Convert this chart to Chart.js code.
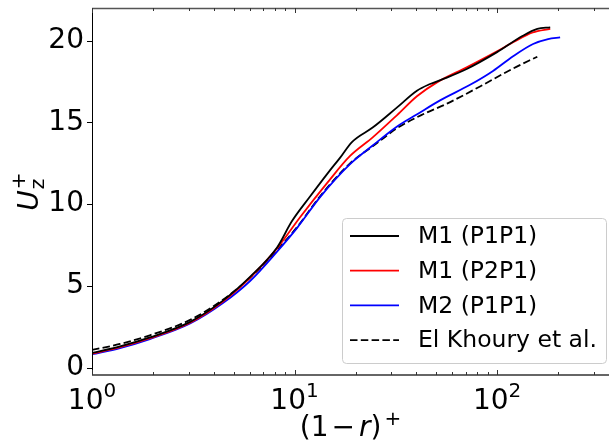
<!DOCTYPE html>
<html lang="en">
<head>
<meta charset="utf-8"/>
<script src="https://cdn.jsdelivr.net/npm/chart.js@4.4.0/dist/chart.umd.min.js"></script>
<style>
  html, body { margin: 0; padding: 0; background: #fff; }
  #box { width: 609px; height: 445px; }
</style>
</head>
<body>
<div id="box"><canvas id="plot" width="609" height="445"></canvas></div>
<script>
// values
const m1p1X = [1, 1.375, 1.93, 3.05, 4.43, 6.03, 8.2, 9.7, 11.9, 14.6, 16.8, 19.2, 24.4, 32.1, 40.2, 46.7, 54.3, 70.8, 100, 134, 158, 183];
const m1p1Y = [0.9, 1.3, 1.85, 2.8, 4.1, 5.55, 7.35, 8.95, 10.45, 11.9, 12.85, 13.8, 14.7, 15.92, 16.94, 17.35, 17.66, 18.27, 19.3, 20.3, 20.72, 20.82];

const m1p2X = [1, 1.375, 1.93, 3.05, 4.43, 6.03, 8.2, 10.65, 14.5, 18.8, 24.4, 32.1, 40.2, 50.5, 70.8, 100, 120, 150, 183];
const m1p2Y = [0.85, 1.25, 1.8, 2.75, 4.05, 5.5, 7.3, 9.2, 11.3, 12.95, 14.1, 15.45, 16.6, 17.45, 18.37, 19.35, 19.9, 20.5, 20.72];

const m2p1X = [1, 1.375, 1.93, 3.05, 4.43, 6.03, 8.2, 10.3, 13.4, 18.8, 24.4, 32.1, 40.3, 52.3, 73.6, 95.5, 120, 150.6, 178.6, 204.8];
const m2p1Y = [0.82, 1.2, 1.75, 2.7, 3.95, 5.3, 7.1, 8.55, 10.45, 12.45, 13.6, 14.75, 15.5, 16.35, 17.3, 18.15, 19.05, 19.8, 20.1, 20.2];

const khouryX = [1, 1.375, 1.93, 3.05, 4.43, 6.03, 8.2, 10.3, 13.4, 18.8, 24.4, 32.1, 43.1, 56.6, 82.4, 120, 158];
const khouryY = [1.08, 1.45, 1.98, 2.92, 4.15, 5.5, 7.2, 8.6, 10.5, 12.5, 13.55, 14.65, 15.5, 16.15, 17.2, 18.3, 19.02];

const seriesNames = ['M1 (P1P1)', 'M1 (P2P1)', 'M2 (P1P1)', 'El Khoury et al.'];
const xTickValues = [1,2,3,4,5,6,7,8,9,10,20,30,40,50,60,70,80,90,100,200,300];
const xMajorValues = [1, 10, 100];
const yTickValues = [0, 5, 10, 15, 20];

const FONT = '"DejaVu Sans", sans-serif';

function pairs(xs, ys) {
    return xs.map((x, i) => ({ x: x, y: ys[i] }));
}

function line(label, xs, ys, colour, dash) {
    return {
        label: label,
        data: pairs(xs, ys),
        borderColor: colour,
        backgroundColor: colour,
        borderWidth: 1.8,
        borderDash: dash || [],
        showLine: true,
        pointRadius: 0,
        cubicInterpolationMode: 'monotone',
        fill: false,
    };
}

// spines, inward x ticks, outward y ticks, x tick labels as 10^n
const framePlugin = {
    id: 'frame',
    afterDraw(chart) {
        const ctx = chart.ctx;
        const a = chart.chartArea;
        const xs = chart.scales.x;
        const ys = chart.scales.y;
        ctx.save();
        ctx.lineCap = 'butt';

        ctx.strokeStyle = '#000';
        ctx.lineWidth = 1;
        ctx.beginPath();
        ctx.moveTo(a.left + 0.5, a.top);
        ctx.lineTo(a.left + 0.5, a.bottom);
        ctx.stroke();

        ctx.strokeStyle = '#555';
        ctx.lineWidth = 1.5;
        ctx.beginPath();
        ctx.moveTo(a.left, a.top + 0.5);
        ctx.lineTo(a.right, a.top + 0.5);
        ctx.stroke();

        ctx.strokeStyle = '#666';
        ctx.lineWidth = 2.2;
        ctx.beginPath();
        ctx.moveTo(a.left, a.bottom);
        ctx.lineTo(a.right, a.bottom);
        ctx.stroke();

        ctx.lineWidth = 1;
        ctx.strokeStyle = '#333';
        xTickValues.forEach((v) => {
            const px = Math.round(xs.getPixelForValue(v)) + 0.5;
            const major = xMajorValues.includes(v);
            const len = major ? 5 : 3;
            ctx.beginPath();
            ctx.moveTo(px, a.bottom);
            ctx.lineTo(px, a.bottom - len);
            ctx.moveTo(px, a.top);
            ctx.lineTo(px, a.top + len);
            ctx.stroke();
        });

        ctx.strokeStyle = '#000';
        yTickValues.forEach((v) => {
            const py = Math.round(ys.getPixelForValue(v)) + 0.5;
            ctx.beginPath();
            ctx.moveTo(a.left - 5, py);
            ctx.lineTo(a.left, py);
            ctx.stroke();
        });

        ctx.fillStyle = '#000';
        ctx.textAlign = 'left';
        ctx.textBaseline = 'alphabetic';
        xMajorValues.forEach((v) => {
            const px = xs.getPixelForValue(v);
            const e = String(Math.round(Math.log10(v)));
            ctx.font = '28px ' + FONT;
            const w1 = ctx.measureText('10').width;
            ctx.font = '20px ' + FONT;
            const w2 = ctx.measureText(e).width;
            const x0 = px - (w1 + w2) / 2;
            ctx.font = '28px ' + FONT;
            ctx.fillText('10', x0, 409);
            ctx.font = '20px ' + FONT;
            ctx.fillText(e, x0 + w1, 397);
        });
        ctx.restore();
    }
};

// axis titles with math style pieces
const titlePlugin = {
    id: 'titles',
    afterDraw(chart) {
        const ctx = chart.ctx;
        const a = chart.chartArea;
        ctx.save();
        ctx.fillStyle = '#000';
        ctx.textBaseline = 'alphabetic';
        ctx.textAlign = 'left';

        // x title: (1 - r)+
        const big = '28px ' + FONT;
        const bigIt = 'italic 28px ' + FONT;
        const small = '20px ' + FONT;
        const parts = [
            { t: '(1', f: big, dy: 0, gap: 3 },
            { t: '\u2212', f: big, dy: 0, gap: 4 },
            { t: 'r', f: bigIt, dy: 0, gap: 0 },
            { t: ')', f: big, dy: 0, gap: 3 },
            { t: '+', f: small, dy: -11, gap: 0 },
        ];
        let w = 0;
        parts.forEach((p) => { ctx.font = p.f; p.w = ctx.measureText(p.t).width + p.gap; w += p.w; });
        let x = (a.left + a.right) / 2 - w / 2;
        const base = 436;
        parts.forEach((p) => {
            ctx.font = p.f;
            ctx.fillText(p.t, x, base + p.dy);
            x += p.w;
        });

        // y title: U_z^+
        ctx.translate(28, (a.top + a.bottom) / 2);
        ctx.rotate(-Math.PI / 2);
        ctx.font = bigIt;
        const uw = ctx.measureText('U').width;
        ctx.font = small;
        const zw = ctx.measureText('z').width;
        const pw = ctx.measureText('+').width;
        const tw = uw + 1 + Math.max(zw, pw);
        const x0 = -tw / 2;
        ctx.font = bigIt;
        ctx.fillText('U', x0, 10);
        ctx.font = small;
        ctx.fillText('z', x0 + uw + 1, 16);
        ctx.fillText('+', x0 + uw + 1, -3);
        ctx.restore();
    }
};

// legend box inside the plot, lower right
const legendPlugin = {
    id: 'innerLegend',
    afterDraw(chart) {
        const ctx = chart.ctx;
        const bx = 342, by = 218, bw = 264, bh = 145, r = 4;
        ctx.save();
        ctx.fillStyle = 'rgba(255,255,255,0.85)';
        ctx.strokeStyle = '#cccccc';
        ctx.lineWidth = 1;
        ctx.beginPath();
        ctx.roundRect(bx + 0.5, by + 0.5, bw, bh, r);
        ctx.fill();
        ctx.stroke();
        ctx.font = '23.5px ' + FONT;
        ctx.textBaseline = 'middle';
        ctx.textAlign = 'left';
        chart.data.datasets.forEach((ds, i) => {
            const yy = 236 + i * 34.7;
            ctx.strokeStyle = ds.borderColor;
            ctx.lineWidth = 1.8;
            ctx.setLineDash(ds.borderDash || []);
            ctx.beginPath();
            ctx.moveTo(350, yy);
            ctx.lineTo(399, yy);
            ctx.stroke();
            ctx.setLineDash([]);
            ctx.fillStyle = '#000';
            ctx.fillText(ds.label, 418, yy + 1);
        });
        ctx.restore();
    }
};

const ctx = document.getElementById('plot').getContext('2d');
const chart = new Chart(ctx, {
    type: 'scatter',
    data: {
        datasets: [
            line(seriesNames[0], m1p1X, m1p1Y, '#000000'),
            line(seriesNames[1], m1p2X, m1p2Y, '#ff0000'),
            line(seriesNames[2], m2p1X, m2p1Y, '#0000ff'),
            line(seriesNames[3], khouryX, khouryY, '#000000', [7.5, 3.3]),
        ]
    },
    options: {
        responsive: false,
        animation: false,
        devicePixelRatio: 1,
        layout: { padding: { top: 8, right: 0, left: 0, bottom: 0 } },
        plugins: {
            legend: { display: false },
            tooltip: { enabled: false },
        },
        scales: {
            x: {
                type: 'logarithmic',
                min: 1,
                max: 357,
                grid: { display: false, drawTicks: false },
                border: { display: false },
                afterBuildTicks: (scale) => { scale.ticks = xTickValues.map((v) => ({ value: v })); },
                afterFit: (scale) => {
                    scale.height = 70;
                    scale.paddingLeft = 0;
                    scale.paddingRight = 0;
                },
                ticks: {
                    autoSkip: false,
                    maxRotation: 0,
                    callback: () => '',
                }
            },
            y: {
                min: -0.45,
                max: 22,
                grid: { display: false, drawTicks: false },
                border: { display: false },
                afterBuildTicks: (scale) => { scale.ticks = yTickValues.map((v) => ({ value: v })); },
                afterFit: (scale) => {
                    scale.width = 92;
                    scale.paddingTop = 0;
                    scale.paddingBottom = 0;
                },
                ticks: {
                    padding: 8,
                    color: '#000',
                    font: { family: FONT, size: 28 },
                }
            }
        }
    },
    plugins: [framePlugin, titlePlugin, legendPlugin]
});
</script>
</body>
</html>
